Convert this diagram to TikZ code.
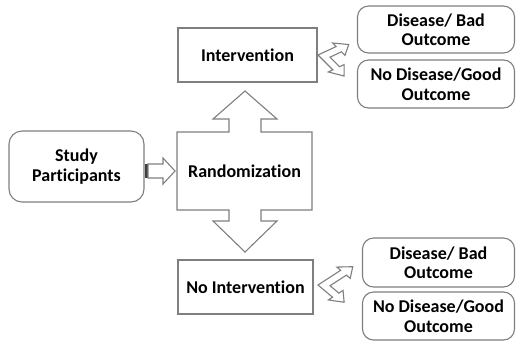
\documentclass[tikz,border=0pt]{standalone}
\usepackage{fontspec}
\setmainfont{Carlito}[Ligatures=NoCommon]
\usetikzlibrary{calc}
\definecolor{boxgray}{HTML}{7F7F7F}
\definecolor{stripegray}{HTML}{404040}
\newcommand\lblfont{\fontsize{18}{19.5}\selectfont\bfseries}
% #1 corner, #2 lower direction, #3 upper direction, #4 lower length, #5 upper length
\newcommand\forkarrow[5]{%
  \pgfmathsetmacro\fau{#4-11}\pgfmathsetmacro\fav{#5-11}%
  \draw[blockarrow] (#1) -- ($(#1)+\fau*(#2)$) -- ($(#1)+\fau*(#2)-5*(#3)$)
    -- ($(#1)+#4*(#2)+3.75*(#3)$) -- ($(#1)+\fau*(#2)+12.5*(#3)$)
    -- ($(#1)+\fau*(#2)+7.5*(#3)$) -- ($(#1)+7.5*(#2)+7.5*(#3)$)
    -- ($(#1)+7.5*(#2)+\fav*(#3)$) -- ($(#1)+12.5*(#2)+\fav*(#3)$)
    -- ($(#1)+3.75*(#2)+#5*(#3)$) -- ($(#1)-5*(#2)+\fav*(#3)$)
    -- ($(#1)+\fav*(#3)$) -- cycle;}
\begin{document}
\begin{tikzpicture}[x=1pt,y=-1pt,
  line/.style={draw=boxgray, line width=1.1pt},
  sqbox/.style={line, fill=white, inner sep=0pt, align=center, font=\lblfont},
  rbox/.style={sqbox, rounded corners=11pt},
  lbl/.style={inner sep=0pt, align=center, font=\lblfont},
  blockarrow/.style={line, fill=white, line join=miter}]
\useasboundingbox (0,0) rectangle (516,341);

% boxes
\node[sqbox, minimum width=139, minimum height=54] (int) at (247.5,55) {Intervention};
\node[sqbox, minimum width=135, minimum height=54] (noint) at (245.5,287) {No Intervention};
\node[rbox, rounded corners=13pt, minimum width=135, minimum height=71] (study) at (76.5,166.5) {Study\\Participants};
\node[rbox, minimum width=157, minimum height=47] (d1) at (436,29.5) {Disease/ Bad\\Outcome};
\node[rbox, minimum width=157, minimum height=48] (g1) at (436,84) {No Disease/Good\\Outcome};
\node[rbox, minimum width=152, minimum height=49] (d2) at (438.5,262.5) {Disease/ Bad\\Outcome};
\node[rbox, minimum width=152, minimum height=48] (g2) at (438.5,316) {No Disease/Good\\Outcome};

% randomization block with double arrow
\draw[blockarrow] (177,132) -- (229,132) -- (229,119) -- (213,119) -- (245,91)
  -- (277,119) -- (261,119) -- (261,132) -- (312,132) -- (312,210)
  -- (261,210) -- (261,221) -- (277,221) -- (245,252) -- (213,221)
  -- (229,221) -- (229,210) -- (177,210) -- cycle;
\node[lbl] (rand) at (244.5,171) {Randomization};

% study -> randomization arrow
\fill[stripegray] (144.5,164) rectangle (148,178);
\draw[blockarrow] (148,164) -- (163,164) -- (163,158) -- (175,171) -- (163,184)
  -- (163,178) -- (148,178) -- cycle;

% fork arrows
\coordinate (c1) at (318,55);
\coordinate (u1) at (0.707,0.707);
\coordinate (v1) at (0.906,-0.423);
\forkarrow{c1}{u1}{v1}{32}{31}
\coordinate (c2) at (318,285);
\coordinate (u2) at (0.766,0.643);
\coordinate (v2) at (0.839,-0.545);
\forkarrow{c2}{u2}{v2}{30}{38}
\end{tikzpicture}
\end{document}
